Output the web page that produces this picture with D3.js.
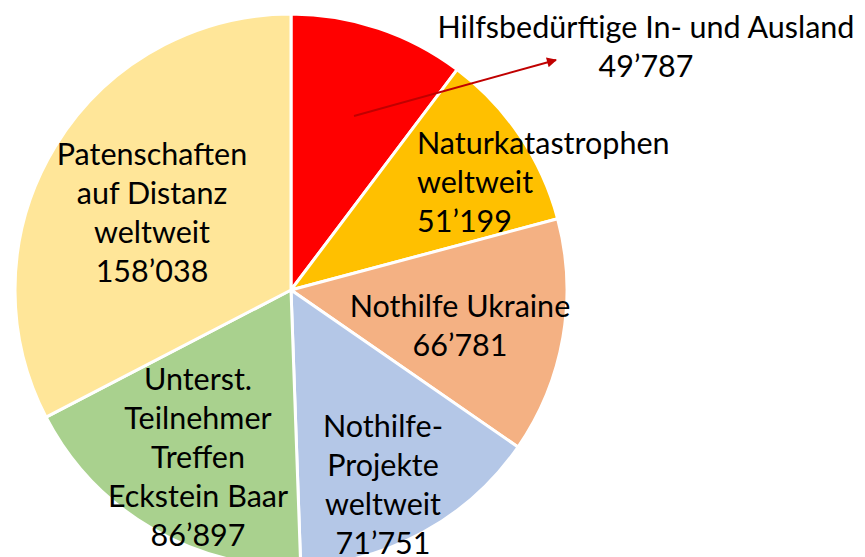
<!DOCTYPE html>
<html><head><meta charset="utf-8">
<script src="https://cdn.jsdelivr.net/npm/d3@7"></script>
<style>body{margin:0;background:#fff}svg{display:block}</style>
</head><body>
<svg id="c" width="865" height="557"></svg>
<script>
const categories = ["Hilfsbedürftige In- und Ausland","Naturkatastrophen weltweit","Nothilfe Ukraine","Nothilfe-Projekte weltweit","Unterst. Teilnehmer Treffen Eckstein Baar","Patenschaften auf Distanz weltweit"];
const values = [49787, 51199, 66781, 71751, 86897, 158038];
const valueLabels = ["49’787","51’199","66’781","71’751","86’897","158’038"];
const labelLines = [
  ["Hilfsbedürftige In- und Ausland"],
  ["Naturkatastrophen","weltweit"],
  ["Nothilfe Ukraine"],
  ["Nothilfe-","Projekte","weltweit"],
  ["Unterst.","Teilnehmer","Treffen","Eckstein Baar"],
  ["Patenschaften","auf Distanz","weltweit"]
];
const colors = ["#FF0000","#FFC000","#F4B183","#B4C7E7","#A9D18E","#FFE699"];
// label layout (x, first line centre y, anchor)
const labelLayout = [
  {x:646,y:26,anchor:"middle"},
  {x:417,y:142,anchor:"start"},
  {x:460,y:305,anchor:"middle"},
  {x:383,y:425,anchor:"middle"},
  {x:198,y:378,anchor:"middle"},
  {x:152,y:153,anchor:"middle"}
];

const svg = d3.select("#c");
const cx = 291, cy = 290, r = 276;
const g = svg.append("g").attr("transform",`translate(${cx},${cy})`);
const pie = d3.pie().sort(null).value(d=>d)(values);
const arc = d3.arc().innerRadius(0).outerRadius(r);
g.selectAll("path").data(pie).join("path")
  .attr("d",arc).attr("fill",(d,i)=>colors[i])
  .attr("stroke","#fff").attr("stroke-width",3).attr("stroke-linejoin","round");

const fontFamily = "Lato, 'Open Sans', sans-serif";
const lh = 39;
labelLayout.forEach((L,i)=>{
  const lines = labelLines[i].concat([valueLabels[i]]);
  const t = svg.append("text").attr("text-anchor",L.anchor)
    .attr("font-family",fontFamily).attr("font-size",30.5).attr("fill","#000");
  lines.forEach((s,j)=>{
    t.append("tspan").attr("x",L.x).attr("y",L.y+j*lh).attr("dominant-baseline","central").text(s);
  });
});

// arrow
const defs = svg.append("defs");
defs.append("marker").attr("id","ah").attr("viewBox","0 0 10 10").attr("refX",9).attr("refY",5)
  .attr("markerWidth",6).attr("markerHeight",5).attr("orient","auto").attr("markerUnits","strokeWidth")
  .append("path").attr("d","M0,0 L10,5 L0,10 Z").attr("fill","#C00000");
svg.append("line").attr("x1",354).attr("y1",116).attr("x2",556).attr("y2",60)
  .attr("stroke","#C00000").attr("stroke-width",2).attr("marker-end","url(#ah)");
</script>
</body></html>
